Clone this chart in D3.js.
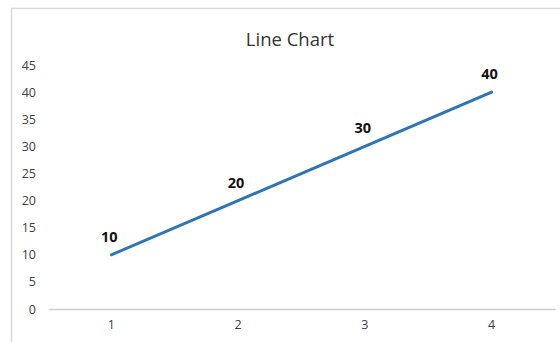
<!DOCTYPE html>
<html>
<head>
<meta charset="utf-8">
<script src="https://cdn.jsdelivr.net/npm/d3@7"></script>
<style>
  html, body { margin: 0; padding: 0; background: #fff; }
  svg { display: block; }
</style>
</head>
<body>
<svg id="chart" width="560" height="342"></svg>
<script>
// Series data
const categories = ["1", "2", "3", "4"];
const values = [10, 20, 30, 40];
const yTicks = [0, 5, 10, 15, 20, 25, 30, 35, 40, 45];
const chartTitle = "Line Chart";

const svg = d3.select("#chart");
const W = 560, H = 342;
const margin = { top: 65, right: 5, bottom: 33, left: 48 };

// Chart-area frame
svg.append("path")
  .attr("d", `M11.5,${H} V8.5 H${W}`)
  .attr("fill", "none")
  .attr("stroke", "#d9d9d9")
  .attr("stroke-width", 1.5);

const x = d3.scaleBand()
  .domain(categories)
  .range([margin.left, W - margin.right]);

const y = d3.scaleLinear()
  .domain([0, 45])
  .range([H - margin.bottom, margin.top]);

// Title
svg.append("text")
  .attr("x", 290)
  .attr("y", 46)
  .attr("text-anchor", "middle")
  .attr("font-family", "'Open Sans', sans-serif")
  .attr("font-size", 18.5)
  .attr("fill", "#333")
  .text(chartTitle);

// Y axis labels (no axis line)
const yAxis = svg.append("g")
  .attr("transform", `translate(${margin.left - 12},0)`)
  .call(d3.axisLeft(y).tickValues(yTicks).tickSize(0).tickPadding(0));
yAxis.select(".domain").remove();
yAxis.selectAll("text")
  .attr("font-family", "'Open Sans', sans-serif")
  .attr("font-size", 12.5)
  .attr("fill", "#404040");

// X axis
const xAxis = svg.append("g")
  .attr("transform", `translate(0,${y(0)})`)
  .call(d3.axisBottom(x).tickSize(0).tickPadding(11));
xAxis.select(".domain")
  .attr("stroke", "#d0d0d0")
  .attr("stroke-width", 1.5);
xAxis.selectAll("text")
  .attr("font-family", "'Open Sans', sans-serif")
  .attr("font-size", 12.5)
  .attr("fill", "#404040");

const cx = d => x(d) + x.bandwidth() / 2;

// Line
const line = d3.line()
  .x((d, i) => cx(categories[i]))
  .y(d => y(d));

svg.append("path")
  .datum(values)
  .attr("d", line)
  .attr("fill", "none")
  .attr("stroke", "#2e75b6")
  .attr("stroke-width", 3)
  .attr("stroke-linecap", "round");

// Data labels
svg.selectAll(".dlabel")
  .data(values)
  .join("text")
  .attr("class", "dlabel")
  .attr("x", (d, i) => cx(categories[i]) - 2)
  .attr("y", d => y(d) - 13)
  .attr("text-anchor", "middle")
  .attr("font-family", "'Open Sans', sans-serif")
  .attr("font-weight", "bold")
  .attr("font-size", 14.5)
  .attr("fill", "#111")
  .text(d => d);
</script>
</body>
</html>
